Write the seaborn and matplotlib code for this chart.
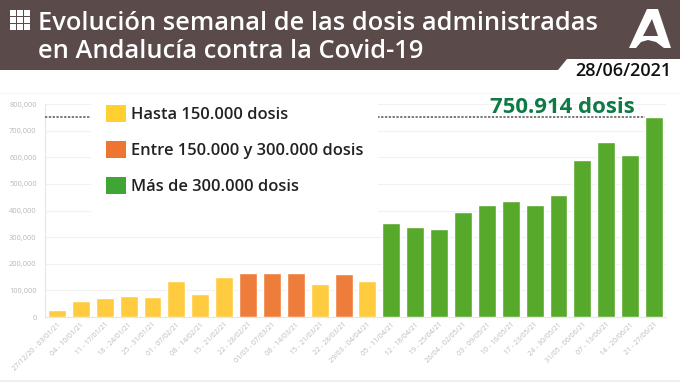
import matplotlib
matplotlib.use("Agg")
import matplotlib.pyplot as plt
from matplotlib.patches import Polygon, Rectangle, Patch
from matplotlib.ticker import FuncFormatter
import seaborn as sns
import pandas as pd

weeks = ["27/12/20 - 03/01/21", "04 - 10/01/21", "11 - 17/01/21", "18 - 24/01/21", "25 - 31/01/21",
         "01 - 07/02/21", "08 - 14/02/21", "15 - 21/02/21", "22 - 28/02/21", "01/03 - 07/03/21",
         "08 - 14/03/21", "15 - 21/03/21", "22 - 28/03/21", "29/03 - 04/04/21", "05 - 11/04/21",
         "12 - 18/04/21", "19 - 25/04/21", "26/04 - 02/05/21", "03 - 09/05/21", "10 - 16/05/21",
         "17 - 23/05/21", "24 - 30/05/21", "31/05 - 06/06/21", "07 - 13/06/21", "14 - 20/06/21",
         "21 - 27/06/21"]
doses = [28000, 60000, 70000, 77000, 75000, 134000, 87000, 150000, 165000, 166000, 167000, 124000,
         160000, 135000, 352000, 337000, 332000, 394000, 422000, 434000, 422000, 458000, 590000,
         657000, 609000, 750914]
categories = ["Hasta 150.000 dosis", "Entre 150.000 y 300.000 dosis", "Más de 300.000 dosis"]
bar_colors = ["#FFCC40", "#EE7D3B", "#57A92B"]
legend_colors = ["#FFD030", "#EE7530", "#3FA535"]
y_ticks = [0, 100000, 200000, 300000, 400000, 500000, 600000, 700000, 800000]
peak_label = "750.914 dosis"
title_lines = ["Evolución semanal de las dosis administradas", "en Andalucía contra la Covid-19"]
date_label = "28/06/2021"

W, H = 680, 382
sns.set_theme(style="white")
plt.rcParams["font.family"] = ["Open Sans", "DejaVu Sans"]

def band(v):
    return categories[0] if v <= 150000 else categories[1] if v <= 300000 else categories[2]

df = pd.DataFrame({"week": weeks, "doses": doses, "band": [band(v) for v in doses]})

fig = plt.figure(figsize=(W / 100, H / 100), dpi=100, facecolor="white")
ax = fig.add_axes([45 / W, (H - 317) / H, 621 / W, 213 / H])
sns.barplot(data=df, x="week", y="doses", hue="band", hue_order=categories, palette=bar_colors,
            dodge=False, width=0.75, saturation=1, legend=False, ax=ax, zorder=3)
ax.set_xlim(-0.5, len(weeks) - 0.5)
ax.set_ylim(0, 800000)
ax.set_xlabel("")
ax.set_ylabel("")
ax.set_yticks(y_ticks)
ax.yaxis.set_major_formatter(FuncFormatter(lambda v, _: f"{int(v):,}"))
ax.tick_params(axis="y", length=0, labelsize=5.4, labelcolor="#B8B8B8", pad=6)
ax.tick_params(axis="x", length=0, pad=3)
ax.set_xticks(range(len(weeks)))
ax.set_xticklabels(weeks, rotation=45, ha="right", rotation_mode="anchor", fontsize=5.0, color="#BABABA")
ax.grid(axis="y", color="#F1F1F1", linewidth=0.8, zorder=0)
ax.set_axisbelow(True)
for s in ["top", "right"]:
    ax.spines[s].set_visible(False)
for s in ["left", "bottom"]:
    ax.spines[s].set_color("#E6E6E6")
    ax.spines[s].set_linewidth(0.8)

ax.hlines(doses[-1], -0.5, len(weeks) - 1 - 0.375, color="#555555", linewidth=1.1,
          linestyles=(0, (1.5, 1)), zorder=3)
ax.text(len(weeks) - 1 - 0.8, doses[-1] - 3000, peak_label, ha="right", va="bottom", fontsize=15.9,
        fontweight="bold", color="#0E7A45", zorder=6)

# white panel behind the legend, hiding grid and reference line
ax.add_patch(Rectangle(((91 - 45) / 621, (317 - 212) / 213), 287 / 621, 118 / 213, transform=ax.transAxes,
                       facecolor="white", edgecolor="none", zorder=4))
leg = ax.legend(handles=[Patch(facecolor=c, edgecolor="none", label=l) for c, l in zip(legend_colors, categories)],
                loc="upper left", bbox_to_anchor=((106 - 45) / 621, (317 - 105) / 213), frameon=False,
                fontsize=11.9, handlelength=1.21, handleheight=1.21, labelspacing=1.09,
                handletextpad=0.3, borderpad=0, borderaxespad=0, labelcolor="#222222")
leg.set_zorder(5)
for t in leg.get_texts():
    t.set_fontweight("semibold")

# header band
ov = fig.add_axes([0, 0, 1, 1], zorder=10)
ov.set_xlim(0, W)
ov.set_ylim(H, 0)
ov.axis("off")
ov.patch.set_alpha(0)
brown = "#5A4A4A"
ov.add_patch(Polygon([(0, 0), (W, 0), (W, 59), (567, 59), (558, 70), (0, 70)], facecolor=brown, edgecolor="none"))
for i in range(3):
    for j in range(3):
        ov.add_patch(Rectangle((10 + 7 * i, 10 + 7 * j), 5.6, 5.6, facecolor="white", edgecolor="none"))
for k, line in enumerate(title_lines):
    ov.text(38, 23 + 28 * k, line, color="white", fontsize=18.4, fontweight="semibold", va="center", ha="left")
ov.text(671, 71, date_label, color="#111111", fontsize=13.0, fontweight="semibold", va="center", ha="right")
ov.add_patch(Polygon([(647, 9), (658, 9), (671, 48), (664, 48), (656, 42), (648, 40), (641, 42), (636, 48), (629, 48)],
                     facecolor="white", edgecolor="none"))
ov.add_patch(Polygon([(652, 19), (658, 36), (643, 36)], facecolor=brown, edgecolor="none"))
ov.add_patch(Rectangle((0, 380), W, 2, facecolor="#F0F0F0", edgecolor="none"))
ov.add_patch(Rectangle((0, 93), W, 1, facecolor="#F6F6F6", edgecolor="none", zorder=0))

fig.savefig("out.png", dpi=100, facecolor="white")
